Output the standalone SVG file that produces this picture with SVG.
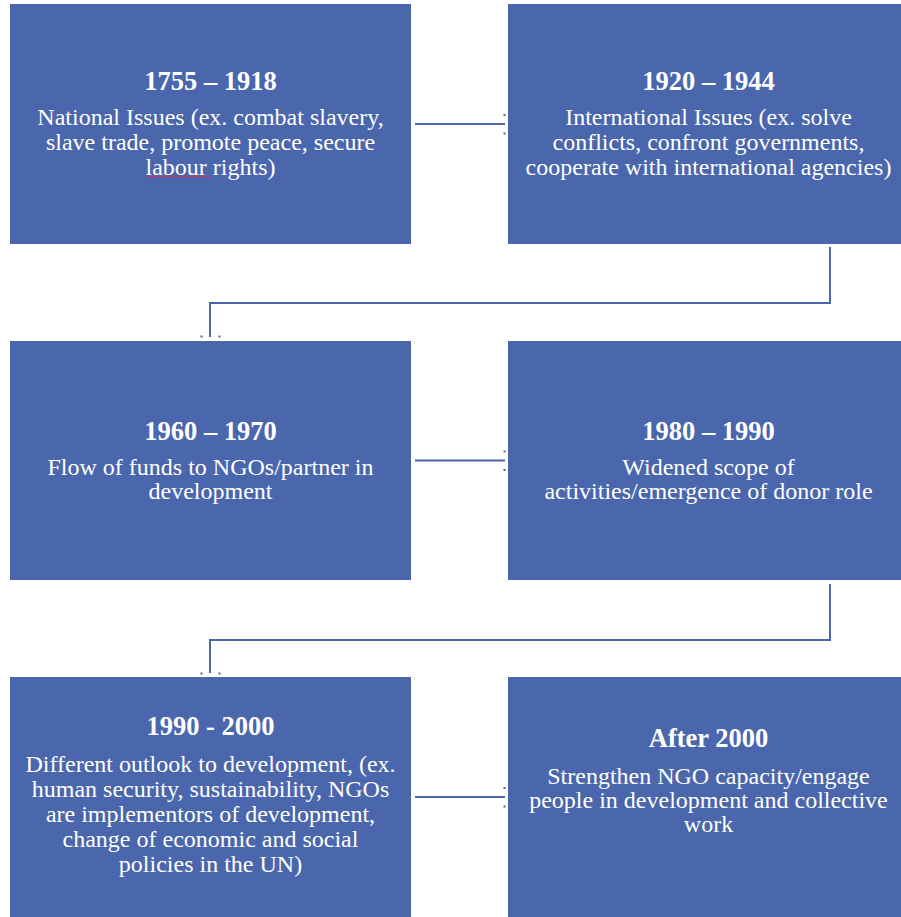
<svg xmlns="http://www.w3.org/2000/svg" width="901" height="917" viewBox="0 0 901 917">
<style>
.box{fill:#4a66ac}
.t{font-family:"Liberation Serif","Times New Roman",serif;fill:#fff;text-anchor:middle}
.h{font-size:26.5px;font-weight:bold}
.b{font-size:24px}
.c{fill:none;stroke:#4a66ac;stroke-width:2}
.d{fill:#4a66ac}
</style>
<rect width="901" height="917" fill="#fff"/>
<g id="connectors">
<line class="c" x1="415" y1="124" x2="505" y2="124"/>
<rect class="d" x="503.5" y="114" width="2" height="2"/>
<rect class="d" x="503.5" y="132.5" width="2" height="2"/>
<line class="c" x1="415" y1="460.5" x2="505" y2="460.5"/>
<rect class="d" x="503.5" y="450.5" width="2" height="2"/>
<rect class="d" x="503.5" y="469" width="2" height="2"/>
<line class="c" x1="415" y1="797" x2="505" y2="797"/>
<rect class="d" x="503.5" y="787" width="2" height="2"/>
<rect class="d" x="503.5" y="805.5" width="2" height="2"/>
<polyline class="c" points="830,247 830,303 210,303 210,337"/>
<rect class="d" x="200.5" y="335.5" width="2" height="2"/>
<rect class="d" x="218.5" y="335.5" width="2" height="2"/>
<polyline class="c" points="830,584 830,640 210,640 210,673"/>
<rect class="d" x="200.5" y="672.5" width="2" height="2"/>
<rect class="d" x="218.5" y="672.5" width="2" height="2"/>
</g>
<g id="node1">
<rect class="box" x="10" y="4" width="401" height="240"/>
<text class="t h" x="210.5" y="90">1755 – 1918</text>
<text class="t b" x="210.5" y="125">National Issues (ex. combat slavery,</text>
<text class="t b" x="210.5" y="150">slave trade, promote peace, secure</text>
<text class="t b" x="210.5" y="174.5">labour rights)</text>
<path d="M145,176.5 q2,-1.5 4,0 t4,0 t4,0 t4,0 t4,0 t4,0 t4,0 t4,0 t4,0 t4,0 t4,0 t4,0 t4,0 t4,0 t4,0 t4,0" fill="none" stroke="#d03050" stroke-width="1"/>
</g>
<g id="node2">
<rect class="box" x="508" y="4" width="401" height="240"/>
<text class="t h" x="708.5" y="90">1920 – 1944</text>
<text class="t b" x="708.5" y="125">International Issues (ex. solve</text>
<text class="t b" x="708.5" y="150">conflicts, confront governments,</text>
<text class="t b" x="708.5" y="174.5">cooperate with international agencies)</text>
</g>
<g id="node3">
<rect class="box" x="10" y="341" width="401" height="239"/>
<text class="t h" x="210.5" y="439.5">1960 – 1970</text>
<text class="t b" x="210.5" y="474.5">Flow of funds to NGOs/partner in</text>
<text class="t b" x="210.5" y="499">development</text>
</g>
<g id="node4">
<rect class="box" x="508" y="341" width="401" height="239"/>
<text class="t h" x="708.5" y="439.5">1980 – 1990</text>
<text class="t b" x="708.5" y="474.5">Widened scope of</text>
<text class="t b" x="708.5" y="499">activities/emergence of donor role</text>
</g>
<g id="node5">
<rect class="box" x="10" y="677" width="401" height="240"/>
<text class="t h" x="210.5" y="735">1990 - 2000</text>
<text class="t b" x="210.5" y="772">Different outlook to development, (ex.</text>
<text class="t b" x="210.5" y="797">human security, sustainability, NGOs</text>
<text class="t b" x="210.5" y="822">are implementors of development,</text>
<text class="t b" x="210.5" y="847">change of economic and social</text>
<text class="t b" x="210.5" y="872">policies in the UN)</text>
</g>
<g id="node6">
<rect class="box" x="508" y="677" width="401" height="240"/>
<text class="t h" x="708.5" y="747">After 2000</text>
<text class="t b" x="708.5" y="784">Strengthen NGO capacity/engage</text>
<text class="t b" x="708.5" y="808">people in development and collective</text>
<text class="t b" x="708.5" y="832">work</text>
</g>
</svg>
